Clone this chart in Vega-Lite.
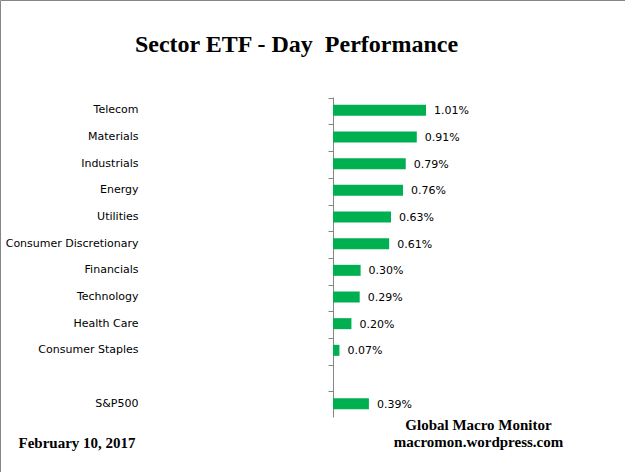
{
  "$schema": "https://vega.github.io/schema/vega-lite/v6.json",
  "width": 625,
  "height": 472,
  "autosize": "none",
  "padding": 0,
  "background": "white",
  "config": {"view": {"stroke": "#868686", "strokeWidth": 1}},
  "title": {
    "text": "Sector ETF - Day\u00a0 Performance",
    "font": "Liberation Serif",
    "fontSize": 24,
    "fontWeight": "bold",
    "color": "#000000",
    "anchor": "middle",
    "dx": -16,
    "offset": 0,
    "baseline": "alphabetic",
    "dy": 76
  },
  "data": {
    "values": [
      {"sector": "Telecom", "change": 0.0101},
      {"sector": "Materials", "change": 0.0091},
      {"sector": "Industrials", "change": 0.0079},
      {"sector": "Energy", "change": 0.0076},
      {"sector": "Utilities", "change": 0.0063},
      {"sector": "Consumer Discretionary", "change": 0.0061},
      {"sector": "Financials", "change": 0.0030},
      {"sector": "Technology", "change": 0.0029},
      {"sector": "Health Care", "change": 0.0020},
      {"sector": "Consumer Staples", "change": 0.0007},
      {"sector": "S&P500", "change": 0.0039}
    ]
  },
  "layer": [
    {
      "mark": {"type": "bar", "color": "#00B050", "size": 11},
      "encoding": {
        "y": {
          "field": "sector",
          "type": "nominal",
          "sort": null,
          "scale": {
            "domain": ["Telecom", "Materials", "Industrials", "Energy", "Utilities", "Consumer Discretionary", "Financials", "Technology", "Health Care", "Consumer Staples", " ", "S&P500"],
            "range": [97, 417]
          },
          "axis": {
            "orient": "left",
            "offset": -333,
            "domainColor": "#868686",
            "tickColor": "#868686",
            "tickSize": 5,
            "bandPosition": 0,
            "labelPadding": 190,
            "labelFont": "DejaVu Sans",
            "labelFontSize": 11,
            "labelColor": "#000000",
            "labelLimit": 300,
            "grid": false,
            "title": ["Global Macro Monitor", "macromon.wordpress.com"],
            "titleAngle": 0,
            "titleX": 145,
            "titleY": 429,
            "titleFont": "Liberation Serif",
            "titleFontSize": 15,
            "titleFontWeight": "bold",
            "titleColor": "#000000",
            "titleAlign": "center",
            "titleBaseline": "alphabetic",
            "titleLineHeight": 17
          }
        },
        "x": {
          "field": "change",
          "type": "quantitative",
          "scale": {"domain": [0, 0.0101], "range": [333, 426], "nice": false, "zero": true},
          "axis": {
            "orient": "bottom",
            "domain": false,
            "ticks": false,
            "labels": false,
            "grid": false,
            "title": "February 10, 2017",
            "titleX": 18,
            "titleY": -25,
            "titleAlign": "left",
            "titleBaseline": "alphabetic",
            "titleFont": "Liberation Serif",
            "titleFontSize": 15,
            "titleFontWeight": "bold",
            "titleColor": "#000000"
          }
        }
      }
    },
    {
      "mark": {"type": "text", "align": "left", "baseline": "middle", "dx": 8, "dy": 1, "font": "DejaVu Sans", "fontSize": 11, "color": "#000000"},
      "encoding": {
        "y": {"field": "sector", "type": "nominal", "sort": null},
        "x": {"field": "change", "type": "quantitative"},
        "text": {"field": "change", "type": "quantitative", "format": ".2%"}
      }
    }
  ]
}
